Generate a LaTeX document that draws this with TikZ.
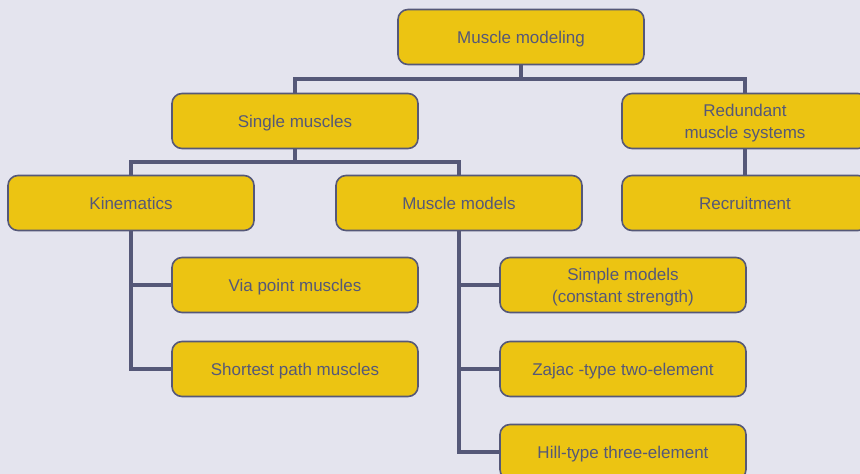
\documentclass[tikz,border=0pt]{standalone}
\usepackage{fontspec}
\setmainfont{Liberation Sans}
\definecolor{bg}{RGB}{228,228,238}
\definecolor{boxfill}{RGB}{236,196,18}
\definecolor{ink}{RGB}{85,88,120}
\begin{document}
\begin{tikzpicture}[x=1pt,y=-1pt,
  box/.style={draw=ink,line width=1.6pt,fill=boxfill,rounded corners=10pt,
    minimum width=246pt,minimum height=55pt,inner sep=0pt,align=center,
    text depth=0pt,
    text=ink,font=\fontsize{17}{22}\selectfont},
  conn/.style={draw=ink,line width=3.6pt,line join=miter}]
\fill[bg] (0,0) rectangle (860,474);
\useasboundingbox (0,0) rectangle (860,474);
% connectors first
\coordinate (j1) at (521,79);
\coordinate (j2) at (295,162);
\draw[conn] (521,37) -- (j1);
\draw[conn] (295,121) |- (j1) -| (745,121);
\draw[conn] (745,121) -- (745,203);
\draw[conn] (295,121) -- (j2);
\draw[conn] (131,203) |- (j2) -| (459,203);
\draw[conn] (131,203) |- (295,285);
\draw[conn] (131,203) |- (295,369);
\draw[conn] (459,203) |- (623,285);
\draw[conn] (459,203) |- (623,369);
\draw[conn] (459,203) |- (623,452);
% nodes
\node[box] (mm) at (521,37) {Muscle modeling};
\node[box] (sm) at (295,121) {Single muscles};
\node[box] (rd) at (745,121) {Redundant\\muscle systems};
\node[box] (kin) at (131,203) {Kinematics};
\node[box] (mmod) at (459,203) {Muscle models};
\node[box] (rec) at (745,203) {Recruitment};
\node[box] (via) at (295,285) {Via point muscles};
\node[box] (sp) at (295,369) {Shortest path muscles};
\node[box] (sim) at (623,285) {Simple models\\(constant strength)};
\node[box] (zaj) at (623,369) {Zajac -type two-element};
\node[box] (hill) at (623,452) {Hill-type three-element};
\end{tikzpicture}
\end{document}
